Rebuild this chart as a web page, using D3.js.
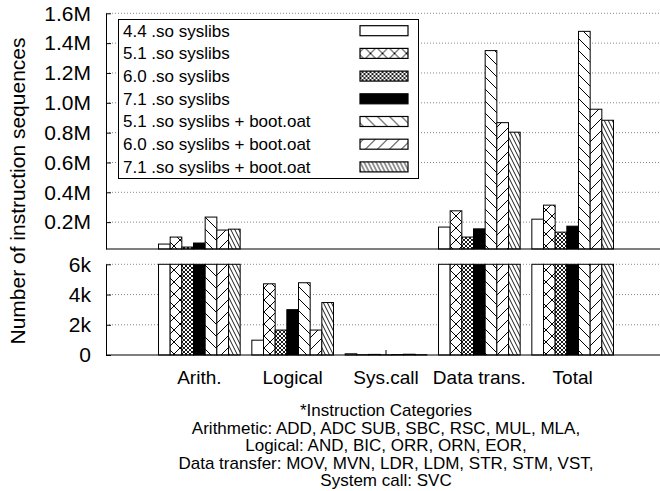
<!DOCTYPE html>
<html>
<head>
<meta charset="utf-8">
<script src="https://cdn.jsdelivr.net/npm/d3@7"></script>
<style>
  html, body { margin: 0; padding: 0; background: #fff; }
  svg { display: block; font-family: "Liberation Sans", Arial, Helvetica, sans-serif; }
</style>
</head>
<body>
<svg id="chart" width="660" height="491"></svg>
<script>
var categories = ["Arith.", "Logical", "Sys.call", "Data trans.", "Total"];
var seriesNames = [
  "4.4 .so syslibs",
  "5.1 .so syslibs",
  "6.0 .so syslibs",
  "7.1 .so syslibs",
  "5.1 .so syslibs + boot.oat",
  "6.0 .so syslibs + boot.oat",
  "7.1 .so syslibs + boot.oat"
];
// values per category, in instruction sequences
var so44 = [53000, 980, 80, 167000, 220000];
var so51 = [100000, 4710, 20, 276000, 314000];
var so60 = [33000, 1650, 40, 100000, 133000];
var so71 = [60000, 3000, 10, 155000, 173000];
var boot51 = [234000, 4780, 30, 1350000, 1479000];
var boot60 = [147000, 1650, 50, 867000, 957000];
var boot71 = [153000, 3470, 20, 803000, 883000];
var seriesValues = [so44, so51, so60, so71, boot51, boot60, boot71];

var topTicks = [200000, 400000, 600000, 800000, 1000000, 1200000, 1400000, 1600000];
var topTickLabels = ["0.2M", "0.4M", "0.6M", "0.8M", "1.0M", "1.2M", "1.4M", "1.6M"];
var bottomTicks = [0, 2000, 4000, 6000];
var bottomTickLabels = ["0", "2k", "4k", "6k"];
var footnote = [
  "*Instruction Categories",
  "Arithmetic: ADD, ADC SUB, SBC, RSC, MUL, MLA,",
  "Logical: AND, BIC, ORR, ORN, EOR,",
  "Data transfer: MOV, MVN, LDR, LDM, STR, STM, VST,",
  "System call: SVC"
];

var fills = ["#fff", "url(#pCross)", "url(#pCrossDense)", "#000", "url(#pBack)", "url(#pFwd)", "url(#pBackDense)"];

var svg = d3.select("#chart");
var left = 106, right = 666;
var topY0 = 249, topY1 = 13.3;
var botY0 = 355, botY1 = 264.3;

var step = (right - left) / 6;
var x = d3.scaleBand()
  .domain(categories)
  .range([left + step / 2, right - step / 2])
  .paddingInner(0.125)
  .paddingOuter(0.0625);
var xs = d3.scaleBand()
  .domain(d3.range(seriesNames.length))
  .range([0, x.bandwidth()]);

var yTop = d3.scaleLinear().domain([20000, 1600000]).range([topY0, topY1]);
var yBot = d3.scaleLinear().domain([0, 6000]).range([botY0, botY1]);

// hatch patterns
var defs = svg.append("defs");
function hatch(id, w, h, d, sw) {
  var p = defs.append("pattern")
    .attr("id", id)
    .attr("patternUnits", "userSpaceOnUse")
    .attr("width", w)
    .attr("height", h);
  p.append("rect").attr("width", w).attr("height", h).attr("fill", "#fff");
  p.append("path").attr("d", d).attr("stroke", "#000").attr("stroke-width", sw).attr("fill", "none");
}
hatch("pCross", 12, 12, "M0,0L12,12M12,0L0,12", 1);
hatch("pCrossDense", 4, 4, "M0,0L4,4M4,0L0,4", 0.9);
hatch("pBack", 12, 12, "M0,0L12,12M-3,9L3,15M9,-3L15,3", 1);
hatch("pFwd", 12, 12, "M0,12L12,0M-3,3L3,-3M9,15L15,9", 1);
hatch("pBackDense", 4, 8, "M-1,-2L5,10M3,-2L9,10M-5,-2L1,10", 0.9);

// grid lines
svg.append("g").selectAll("line")
  .data(topTicks)
  .enter().append("line")
  .attr("x1", left).attr("x2", 660)
  .attr("y1", function(d) { return yTop(d); })
  .attr("y2", function(d) { return yTop(d); })
  .attr("stroke", "#888")
  .attr("stroke-dasharray", "1,2");
svg.append("g").selectAll("line")
  .data(bottomTicks.slice(1))
  .enter().append("line")
  .attr("x1", left).attr("x2", 660)
  .attr("y1", function(d) { return yBot(d); })
  .attr("y2", function(d) { return yBot(d); })
  .attr("stroke", "#888")
  .attr("stroke-dasharray", "1,2");

// axes
var axTop = svg.append("g")
  .attr("transform", "translate(" + left + ",0)")
  .call(d3.axisLeft(yTop)
    .tickValues(topTicks)
    .tickFormat(function(d, i) { return topTickLabels[i]; })
    .tickSize(-5)
    .tickSizeOuter(0)
    .tickPadding(15));
var axBot = svg.append("g")
  .attr("transform", "translate(" + left + ",0)")
  .call(d3.axisLeft(yBot)
    .tickValues(bottomTicks)
    .tickFormat(function(d, i) { return bottomTickLabels[i]; })
    .tickSize(-5)
    .tickSizeOuter(0)
    .tickPadding(15));
[axTop, axBot].forEach(function(ax) {
  ax.selectAll("text").attr("font-size", 21).attr("fill", "#000").attr("font-family", null);
  ax.select(".domain").attr("stroke", "#000");
  ax.selectAll(".tick line").attr("stroke", "#000");
});

var axX = svg.append("g")
  .attr("transform", "translate(0," + botY0 + ")")
  .call(d3.axisBottom(x).tickSize(-5).tickPadding(16));
axX.select(".domain").remove();
axX.selectAll("text").attr("font-size", 19).attr("fill", "#000").attr("font-family", null);
axX.selectAll(".tick line").attr("stroke", "#000");

// bars
var groups = svg.append("g").selectAll("g")
  .data(seriesValues)
  .enter().append("g")
  .attr("fill", function(d, i) { return fills[i]; });

groups.each(function(vals, si) {
  var g = d3.select(this);
  vals.forEach(function(v, ci) {
    var bx = x(categories[ci]) + xs(si);
    var bTop = yBot(Math.min(v, 6000));
    g.append("rect")
      .attr("x", bx).attr("y", bTop)
      .attr("width", xs.bandwidth())
      .attr("height", botY0 - bTop)
      .attr("stroke", "#000").attr("stroke-width", 1);
    if (v > yTop.domain()[0]) {
      var tTop = yTop(Math.min(v, 1600000));
      g.append("rect")
        .attr("x", bx).attr("y", tTop)
        .attr("width", xs.bandwidth())
        .attr("height", topY0 - tTop)
        .attr("stroke", "#000").attr("stroke-width", 1);
    }
  });
});

// panel bottoms
svg.append("line").attr("x1", left).attr("x2", 660).attr("y1", topY0).attr("y2", topY0)
  .attr("stroke", "#000").attr("stroke-width", 1.2);
svg.append("line").attr("x1", left).attr("x2", 660).attr("y1", botY0).attr("y2", botY0)
  .attr("stroke", "#000").attr("stroke-width", 1.2);

// y title
svg.append("text")
  .attr("transform", "translate(25,191) rotate(-90)")
  .attr("text-anchor", "middle")
  .attr("font-size", 21)
  .text("Number of instruction sequences");

// legend
var legend = svg.append("g").attr("transform", "translate(118.5,19.5)");
legend.append("rect")
  .attr("width", 300).attr("height", 159)
  .attr("fill", "#fff").attr("stroke", "#000");
var rows = legend.selectAll("g.row")
  .data(seriesNames)
  .enter().append("g")
  .attr("class", "row")
  .attr("transform", function(d, i) { return "translate(0," + (11.2 + i * 22.7) + ")"; });
rows.append("text")
  .attr("x", 4.5)
  .attr("dy", "0.35em")
  .attr("font-size", 17)
  .text(function(d) { return d; });
rows.append("rect")
  .attr("x", 241.5).attr("y", -5)
  .attr("width", 48).attr("height", 10)
  .attr("fill", function(d, i) { return fills[i]; })
  .attr("stroke", "#000").attr("stroke-width", 1.2);

// footnote
svg.append("g").selectAll("text")
  .data(footnote)
  .enter().append("text")
  .attr("x", x("Sys.call") + x.bandwidth() / 2)
  .attr("y", function(d, i) { return 416 + i * 17.5; })
  .attr("text-anchor", "middle")
  .attr("font-size", 17)
  .text(function(d) { return d; });
</script>
</body>
</html>
